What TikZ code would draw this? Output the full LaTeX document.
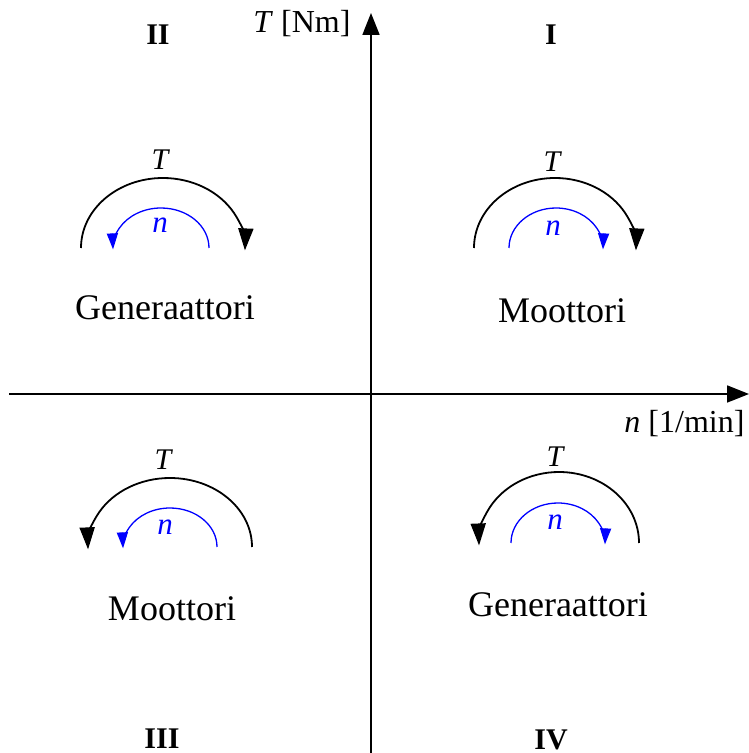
\documentclass[tikz,border=0pt]{standalone}
\usepackage{fontspec}
\setmainfont{Liberation Serif}
\usetikzlibrary{arrows.meta}
\definecolor{nblue}{RGB}{0,0,255}
\tikzset{
  axis/.style={line width=1.8pt,-{Triangle[length=22pt,width=17pt]}},
  tarc/.style={line width=1.8pt,-{Triangle[length=22pt,width=15pt]}},
  narc/.style={line width=1.3pt,nblue,-{Triangle[length=16pt,width=11pt]}},
  tlab/.style={font=\fontsize{30}{34}\selectfont\itshape},
  nlab/.style={font=\fontsize{31}{34}\selectfont\itshape,text=nblue},
  mode/.style={font=\fontsize{36}{40}\selectfont,anchor=base},
  quad/.style={font=\fontsize{30}{34}\selectfont\bfseries,anchor=base,inner sep=1pt},
  axlab/.style={font=\fontsize{32}{36}\selectfont,anchor=base east}
}
\begin{document}
\begin{tikzpicture}[x=1pt,y=1pt]
\useasboundingbox (0,0) rectangle (749,753);
% axes
\coordinate (vb) at (371,0);
\coordinate (vt) at (371,740);
\coordinate (hl) at (9,359);
\coordinate (hr) at (749,359);
\draw[axis] (vb) -- (vt);
\draw[axis] (hl) -- (hr);
\node[axlab] (tax) at (354,720) {\textit{T} [Nm]};
\node[axlab] (nax) at (748,320) {\textit{n} [1/min]};
% quadrant labels
\node[quad] (q1) at (551,708) {I};
\node[quad] (q2) at (158,708) {II};
\node[quad] (q3) at (162,5) {III};
\node[quad] (q4) at (551,3) {IV};
% Quadrant I
\draw[tarc] (474,505) arc[start angle=180,end angle=-2,x radius=81,y radius=70];
\draw[narc] (509,505) arc[start angle=180,end angle=-2,x radius=47,y radius=40];
\node[tlab] (t1) at (552,591) {T};
\node[nlab] (n1) at (553,525) {n};
\node[mode] (m1) at (562,430) {Moottori};
% Quadrant II
\draw[tarc] (81,505) arc[start angle=180,end angle=-2,x radius=82,y radius=70];
\draw[narc] (209,505) arc[start angle=0,end angle=182,x radius=48,y radius=40];
\node[tlab] (t2) at (160,593) {T};
\node[nlab] (n2) at (160,528) {n};
\node[mode] (m2) at (165,433) {Generaattori};
% Quadrant III
\draw[tarc] (252,206) arc[start angle=0,end angle=182,x radius=82,y radius=69];
\draw[narc] (217,206) arc[start angle=0,end angle=182,x radius=47,y radius=39];
\node[tlab] (t3) at (163,293) {T};
\node[nlab] (n3) at (165,226) {n};
\node[mode] (m3) at (172,132) {Moottori};
% Quadrant IV
\draw[tarc] (639,210) arc[start angle=0,end angle=182,x radius=80,y radius=71];
\draw[narc] (511,210) arc[start angle=180,end angle=-2,x radius=47,y radius=40];
\node[tlab] (t4) at (555,296) {T};
\node[nlab] (n4) at (555,231) {n};
\node[mode] (m4) at (558,136) {Generaattori};
\end{tikzpicture}
\end{document}
